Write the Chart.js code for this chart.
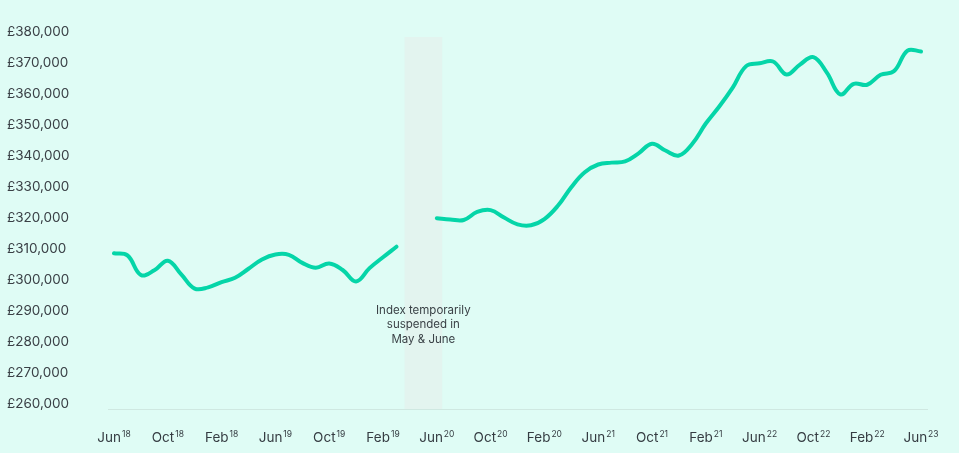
<!DOCTYPE html>
<html>
<head>
<meta charset="utf-8">
<script src="https://cdn.jsdelivr.net/npm/chart.js@4"></script>
<style>
  html, body { margin: 0; padding: 0; background: #dffcf5; }
  #wrap { width: 959px; height: 453px; position: relative; }
</style>
</head>
<body>
<div id="wrap"><canvas id="priceCanvas"></canvas></div>
<script>
// monthly categories, Jun 2018 -> Jun 2023
const months = [];
for (let i = 0; i < 61; i++) {
  const d = new Date(2018, 5 + i, 1);
  months.push(d.toLocaleString("en-GB", { month: "short", year: "numeric" }));
}

// average price, null where the index was suspended
const prices = [
  308700, 308000, 301700, 303200, 306300, 301900, 297300, 297700, 299400, 300800,
  303700, 306700, 308300, 308200, 305600, 304000, 305400, 303300, 299600, 303900,
  307400, 310800, null, null, 320000, 319600, 319400, 322000, 322600, 320200,
  318000, 317700, 319700, 324000, 330000, 334800, 337300, 337900, 338300, 340900,
  344000, 341800, 340200, 344000, 350500, 356000, 362100, 369000, 369900, 370500,
  366300, 369500, 371900, 366900, 359900, 363300, 363000, 366200, 367400, 374000,
  373700,
];

// axis labels as printed on the original
const tickNames = ["Jun", "Oct", "Feb", "Jun", "Oct", "Feb", "Jun", "Oct", "Feb", "Jun", "Oct", "Feb", "Jun", "Oct", "Feb", "Jun"];
const tickYears = ["18", "18", "18", "19", "19", "19", "20", "20", "20", "21", "21", "21", "22", "22", "22", "23"];
const yTicks = [260000, 270000, 280000, 290000, 300000, 310000, 320000, 330000, 340000, 350000, 360000, 370000, 380000];
const noteLines = ["Index temporarily", "suspended in", "May & June"];

const FONT = "Inter, Lato, sans-serif";

const extrasPlugin = {
  id: "extras",
  beforeDraw(chart) {
    const { ctx, width, height } = chart;
    ctx.save();
    ctx.fillStyle = "#dffcf5";
    ctx.fillRect(0, 0, width, height);
    ctx.restore();
  },
  beforeDatasetsDraw(chart) {
    const { ctx, chartArea } = chart;
    const x = chart.scales.x;
    const y = chart.scales.y;
    ctx.save();
    // suspended band
    const x0 = x.getPixelForValue(21.6);
    const x1 = x.getPixelForValue(24.4);
    const top = y.getPixelForValue(378400);
    ctx.fillStyle = "#e3f4ef";
    ctx.fillRect(x0, top, x1 - x0, chartArea.bottom - top);
    // baseline
    ctx.strokeStyle = "#cfe8e1";
    ctx.lineWidth = 1;
    ctx.beginPath();
    ctx.moveTo(chartArea.left - 6, chartArea.bottom + 0.5);
    ctx.lineTo(chartArea.right + 7, chartArea.bottom + 0.5);
    ctx.stroke();
    // note text
    ctx.fillStyle = "#3b4247";
    ctx.font = "11.5px " + FONT;
    ctx.textAlign = "center";
    ctx.textBaseline = "middle";
    const cx = (x0 + x1) / 2;
    const ny = y.getPixelForValue(290300);
    noteLines.forEach((t, i) => ctx.fillText(t, cx, ny + i * 14.7));
    ctx.restore();
  },
  afterDraw(chart) {
    const { ctx, chartArea } = chart;
    const x = chart.scales.x;
    ctx.save();
    ctx.fillStyle = "#353c42";
    ctx.textBaseline = "alphabetic";
    ctx.textAlign = "left";
    tickNames.forEach((name, k) => {
      const px = x.getPixelForValue(k * 4);
      ctx.font = "13.5px " + FONT;
      const w = ctx.measureText(name).width;
      ctx.font = "8.5px " + FONT;
      const ws = ctx.measureText(tickYears[k]).width;
      const start = px - (w + 1 + ws) / 2;
      ctx.font = "13.5px " + FONT;
      ctx.fillText(name, start, chartArea.bottom + 33);
      ctx.font = "8.5px " + FONT;
      ctx.fillText(tickYears[k], start + w + 1, chartArea.bottom + 28);
    });
    ctx.restore();
  },
};

const priceChart = new Chart(document.getElementById("priceCanvas"), {
  type: "line",
  data: {
    labels: months,
    datasets: [
      {
        label: "Average price",
        data: prices,
        borderColor: "#05d5a8",
        borderWidth: 4,
        borderCapStyle: "round",
        borderJoinStyle: "round",
        tension: 0.4,
        pointRadius: 0,
        spanGaps: false,
        fill: false,
      },
    ],
  },
  options: {
    responsive: true,
    maintainAspectRatio: false,
    animation: false,
    layout: { padding: { left: 7, right: 38, top: 32, bottom: 0 } },
    plugins: {
      legend: { display: false },
      tooltip: { enabled: false },
    },
    scales: {
      x: {
        type: "category",
        offset: false,
        grid: { display: false },
        border: { display: false },
        ticks: { display: false },
        afterFit: (s) => { s.height = 44; },
      },
      y: {
        min: 258500,
        max: 380000,
        grid: { display: false },
        border: { display: false },
        afterBuildTicks: (s) => { s.ticks = yTicks.map((v) => ({ value: v })); },
        afterFit: (s) => { s.width = 107; },
        ticks: {
          crossAlign: "far",
          color: "#3a4046",
          font: { family: FONT, size: 13.5 },
          callback: (v) => "£" + Number(v).toLocaleString("en-GB"),
        },
      },
    },
  },
  plugins: [extrasPlugin],
});
</script>
</body>
</html>
